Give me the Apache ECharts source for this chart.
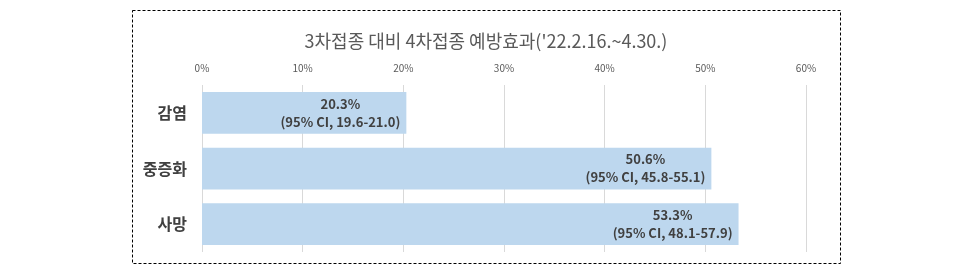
<!DOCTYPE html>
<html><head><meta charset="utf-8">
<script src="https://cdn.jsdelivr.net/npm/echarts@6/dist/echarts.min.js"></script>
<style>html,body{margin:0;padding:0;background:#fff}#c{width:960px;height:273px}</style>
</head><body><div id="c"></div>
<script>
const categories = ['감염', '중증화', '사망'];
const values = [20.3, 50.6, 53.3];
const ciLabels = ['(95% CI, 19.6-21.0)', '(95% CI, 45.8-55.1)', '(95% CI, 48.1-57.9)'];
const titleText = "3차접종 대비 4차접종 예방효과('22.2.16.~4.30.)";
const FONT = '"Noto Sans CJK KR", "Noto Sans", sans-serif';

const chart = echarts.init(document.getElementById('c'), null, {renderer: 'canvas'});
chart.setOption({
  animation: false,
  textStyle: {fontFamily: FONT},
  title: {
    text: titleText, left: 481, top: 27, textAlign: 'center',
    textStyle: {fontFamily: FONT, fontSize: 18, fontWeight: 'normal', color: '#595959'}
  },
  graphic: [{
    type: 'rect', shape: {x: 132.5, y: 10.5, width: 708, height: 253},
    style: {fill: 'none', stroke: '#000', lineWidth: 1, lineDash: [3, 2]}, silent: true
  }],
  grid: {left: 202, right: 154, top: 85, bottom: 21},
  xAxis: {
    type: 'value', position: 'top', min: 0, max: 60, interval: 10,
    axisLine: {show: false}, axisTick: {show: false},
    axisLabel: {formatter: '{value}%', color: '#595959', fontSize: 10, fontFamily: FONT, margin: 12},
    splitLine: {lineStyle: {color: '#d9d9d9', width: 1}}
  },
  yAxis: {
    type: 'category', data: categories, inverse: true,
    axisLine: {show: false}, axisTick: {show: false},
    axisLabel: {color: '#404040', fontSize: 16, fontWeight: 'bold', fontFamily: FONT, margin: 15}
  },
  series: [{
    type: 'bar', data: values, barCategoryGap: '25%',
    itemStyle: {color: '#bdd7ee'},
    label: {
      show: true, position: 'insideRight', distance: 6,
      formatter: p => '{a|' + p.value.toFixed(1) + '%}\n{b|' + ciLabels[p.dataIndex] + '}',
      rich: {
        a: {align: 'center', fontSize: 13, fontWeight: 'bold', color: '#404040', fontFamily: FONT, lineHeight: 18},
        b: {align: 'center', fontSize: 13, fontWeight: 'bold', color: '#404040', fontFamily: FONT, lineHeight: 18}
      }
    }
  }]
});
</script></body></html>
